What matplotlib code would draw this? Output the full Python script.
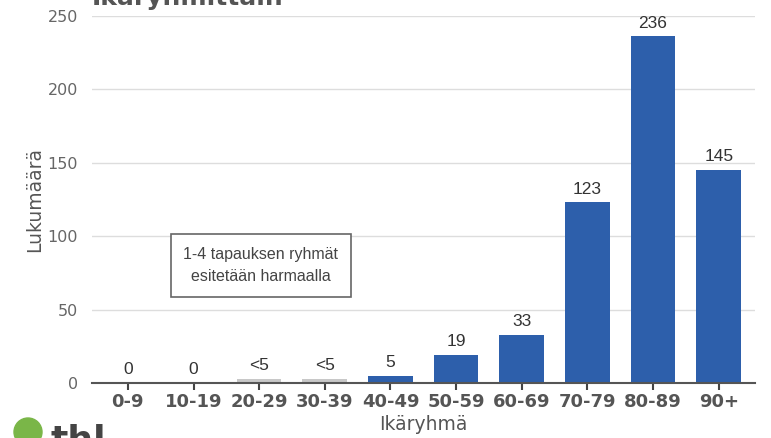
import matplotlib.pyplot as plt
from matplotlib.patches import Ellipse

groups = ['0-9', '10-19', '20-29', '30-39', '40-49', '50-59', '60-69', '70-79', '80-89', '90+']
counts = [0, 0, 3, 3, 5, 19, 33, 123, 236, 145]
labels = ['0', '0', '<5', '<5', '5', '19', '33', '123', '236', '145']
hidden = [False, False, True, True, False, False, False, False, False, False]

blue = '#2D5FAB'
grey = '#C8C8C8'
txt = '#555555'

W, H = 7.71, 4.38
fig = plt.figure(figsize=(W, H), dpi=100)
ax = fig.add_axes([0.119, 0.1256, 0.860, 0.838])

x = range(len(groups))
colors = [grey if h else blue for h in hidden]
ax.bar(x, counts, width=0.68, color=colors, zorder=3)

for i, (c, l) in enumerate(zip(counts, labels)):
    ax.text(i, c + 4, l, ha='center', va='bottom', fontsize=12.5,
            family='Liberation Sans', color='#333333')

ax.set_xlim(-0.55, 9.55)
ax.set_ylim(0, 250)
ax.set_yticks([0, 50, 100, 150, 200, 250])
ax.set_xticks(list(x))
ax.set_xticklabels(groups, fontsize=13, fontweight='bold', color=txt)
ax.tick_params(axis='y', length=0, labelsize=11.5, labelcolor='#666666', pad=10)
ax.tick_params(axis='x', length=5, width=1.5, color='#444444', pad=2)
ax.grid(axis='y', color='#DDDDDD', linewidth=1, zorder=0)
for s in ['top', 'right', 'left']:
    ax.spines[s].set_visible(False)
ax.spines['bottom'].set_color('#555555')
ax.spines['bottom'].set_linewidth(1.5)
ax.spines['bottom'].set_zorder(4)

ax.set_ylabel('Lukumäärä', fontsize=13.5, color='#555555', labelpad=2)
ax.set_xlabel('Ikäryhmä', fontsize=13.5, color='#555555', labelpad=3)

# note box
ax.text(0.255, 0.32, '1-4 tapauksen ryhmät\nesitetään harmaalla',
        transform=ax.transAxes, ha='center', va='center', fontsize=11.5,
        family='Liberation Sans', color='#444444', linespacing=1.65,
        bbox=dict(boxstyle='square,pad=0.8', fc='white', ec='#666666', lw=1.2),
        zorder=5)

# title, cut off at top like in the source image
fig.text(0.119, 0.977, 'Ikäryhmittäin', fontsize=18, fontweight='bold',
         color='#555555', ha='left', va='bottom')

# logo at bottom-left
r = 14 / 100
fig.patches.append(Ellipse((28 / 771, 1 - 432 / 438), 2 * r / W, 2 * r / H,
                           transform=fig.transFigure, color='#7AB648', zorder=5))
fig.text(50 / 771, -0.045, 'thl', fontsize=26, fontweight='bold', color='#444444',
         ha='left', va='bottom')

fig.savefig('out.png', dpi=100)
